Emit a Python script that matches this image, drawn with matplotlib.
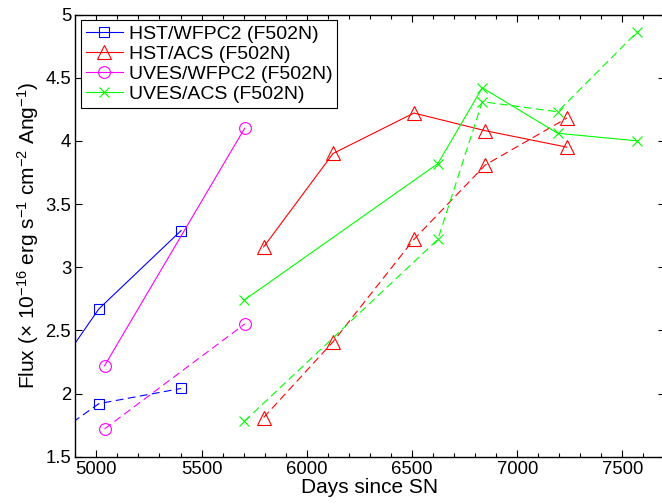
import matplotlib

matplotlib.use("Agg")
import matplotlib.pyplot as plt  # noqa: E402
from matplotlib.ticker import FormatStrFormatter, MultipleLocator  # noqa: E402

plt.rcParams["font.family"] = ["Liberation Sans", "DejaVu Sans"]
plt.rcParams["mathtext.fontset"] = "custom"
plt.rcParams["mathtext.rm"] = "Liberation Sans"
plt.rcParams["mathtext.it"] = "Liberation Sans:italic"

# HST/WFPC2 (first point lies left of the visible range)
wfpc2_days = [4700, 5012, 5403]
wfpc2_solid = [1.92, 2.67, 3.29]
wfpc2_dash = [1.55, 1.92, 2.04]

# HST/ACS
acs_days = [5795, 6125, 6509, 6849, 7236]
acs_solid = [3.16, 3.90, 4.22, 4.08, 3.95]
acs_dash = [1.81, 2.41, 3.22, 3.81, 4.18]

# UVES/WFPC2
uves_wfpc2_days = [5039, 5705]
uves_wfpc2_solid = [2.22, 4.10]
uves_wfpc2_dash = [1.72, 2.55]

# UVES/ACS
uves_acs_days = [5703, 6623, 6834, 7192, 7569]
uves_acs_solid = [2.74, 3.82, 4.42, 4.06, 4.00]
uves_acs_dash = [1.78, 3.22, 4.31, 4.23, 4.86]

series = [
    ("HST/WFPC2 (F502N)", wfpc2_days, wfpc2_solid, wfpc2_dash, "#0000ff", "s", 6.5),
    ("HST/ACS (F502N)", acs_days, acs_solid, acs_dash, "#ff0000", "^", 10),
    ("UVES/WFPC2 (F502N)", uves_wfpc2_days, uves_wfpc2_solid, uves_wfpc2_dash, "#ff00ff", "o", 8.5),
    ("UVES/ACS (F502N)", uves_acs_days, uves_acs_solid, uves_acs_dash, "#00ff00", "x", 6.5),
]

fig = plt.figure(figsize=(6.62, 5.04), dpi=100)
# right spine sits just past the image edge, as in the original figure
ax = fig.add_axes([75.3 / 662, 1 - 456.7 / 504, (664.5 - 75.3) / 662, (456.7 - 14.5) / 504])

for label, days, solid, dash, color, marker, ms in series:
    ax.plot(days, solid, color=color, lw=0.8, marker=marker, ms=ms,
            mfc="none", mec=color, mew=0.8, label=label)
    ax.plot(days, dash, color=color, lw=0.8, ls=(0, (7, 4)), marker=marker,
            ms=ms, mfc="none", mec=color, mew=0.8)

ax.set_xlim(4900, 7700)
ax.set_ylim(1.5, 5)
ax.xaxis.set_major_locator(MultipleLocator(500))
ax.xaxis.set_minor_locator(MultipleLocator(100))
ax.yaxis.set_major_locator(MultipleLocator(0.5))
ax.yaxis.set_major_formatter(FormatStrFormatter("%g"))
ax.tick_params(which="both", direction="in", top=True, right=True,
               labelsize=13.3, width=0.8, pad=3)
ax.tick_params(which="major", length=5)
ax.tick_params(which="minor", length=3)
ax.tick_params(axis="y", which="minor", left=False, right=False)
for sp in ax.spines.values():
    sp.set_linewidth(1.0)

ax.set_xlabel("Days since SN", fontsize=15, labelpad=0)
ax.set_ylabel(r"Flux ($\times$ 10$^{-16}$ erg s$^{-1}$ cm$^{-2}$ Ang$^{-1}$)",
              fontsize=15, labelpad=3)

leg = ax.legend(loc="upper left", fontsize=14, fancybox=False, framealpha=1,
                edgecolor="black", borderaxespad=0.3, handlelength=1.9,
                handletextpad=0.3, borderpad=0.25, labelspacing=0.12)
leg.get_frame().set_linewidth(0.8)

fig.savefig("out.png", dpi=100)
